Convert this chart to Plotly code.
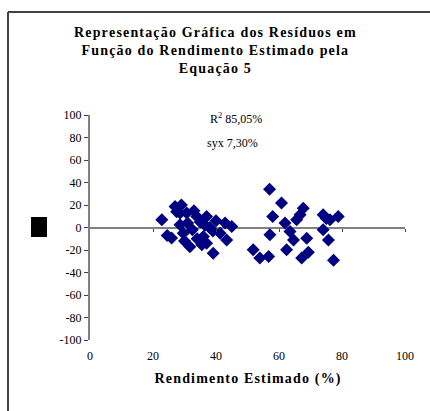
import plotly.graph_objects as go

# Estimated yield (%) and residuals (%) for the fitted model (Equation 5)
rendimento = [
    22.8, 24.5, 25.9, 27.0, 27.5, 28.6, 28.6, 29.6, 30.7, 31.0,
    31.7, 32.5, 33.9, 34.0, 35.5, 35.0, 36.0, 37.0, 37.0, 38.0,
    39.1, 40.0, 41.3, 42.9, 43.4, 45.0, 33.0, 30.0, 36.5, 39.0,
    29.0,
    51.8, 53.9, 56.7, 57.0, 58.0, 57.1, 60.8, 61.9, 62.4, 63.5,
    64.6, 65.6, 66.7, 67.7, 68.8, 69.3, 67.2, 74.0, 76.2, 78.8,
    74.0, 75.7, 77.3, 75.0,
]
residuos = [
    7.0, -7.0, -9.4, 18.7, 14.0, 13.0, 2.4, -5.0, 12.8, 4.0,
    -17.0, -2.0, 9.8, -10.0, -15.4, 5.0, -8.0, 9.8, -13.9, 0.0,
    -22.8, 6.0, -5.0, 3.9, -11.0, 1.0, 15.0, -12.0, 2.0, -3.0,
    20.0,
    -19.8, -27.0, -25.8, 34.0, 9.8, -6.5, 21.7, 3.9, -19.8, -3.5,
    -11.0, 6.8, 11.3, 17.2, -9.5, -22.0, -27.0, 11.3, 6.8, 9.8,
    -2.0, -11.0, -29.0, 8.0,
]

x_ticks = [0, 20, 40, 60, 80, 100]
y_ticks = [100, 80, 60, 40, 20, 0, -20, -40, -60, -80, -100]
y_ticktext = ["100", "80", "60", "40", "20", "0",
              "-20", "-40", "-60", "-80", "-100"]

titulo = ["Representação Gráfica dos Resíduos em",
          "Função do Rendimento Estimado pela",
          "Equação 5"]
titulo_x = "Rendimento Estimado (%)"
r2_txt = "R<sup>2</sup> 85,05%"
syx_txt = "syx 7,30%"

SERIF = "Liberation Serif, Times New Roman, serif"
HAIR = "\u200a"


def espacado(s):
    """Spread the letters of a string apart with hair spaces."""
    return HAIR.join(s)


fig = go.Figure()
fig.add_trace(go.Scatter(
    x=rendimento, y=residuos, mode="markers",
    marker=dict(symbol="diamond", size=10, color="#000080",
                line=dict(width=0)),
    showlegend=False, cliponaxis=False,
))

fig.update_layout(
    width=430, height=411,
    margin=dict(l=90, r=25, t=115, b=71),
    paper_bgcolor="white", plot_bgcolor="white",
    font=dict(family=SERIF, size=12, color="black"),
    xaxis=dict(
        range=[0, 100], tickvals=x_ticks, ticktext=[str(v) for v in x_ticks],
        showgrid=False, zeroline=False, showline=False,
        ticks="outside", ticklen=5, tickcolor="rgba(0,0,0,0)",
        tickfont=dict(family=SERIF, size=12),
        title=dict(text="<b>" + espacado(titulo_x) + "</b>",
                   font=dict(family=SERIF, size=14), standoff=10),
    ),
    xaxis2=dict(
        overlaying="x", matches="x", anchor="free", position=0.5,
        side="bottom", tickvals=x_ticks[1:], showticklabels=False,
        showgrid=False, zeroline=False, showline=False,
        ticks="outside", ticklen=3, tickwidth=1, tickcolor="#404040",
    ),
    yaxis=dict(
        range=[-100, 100], tickvals=y_ticks, ticktext=y_ticktext,
        showgrid=False, showline=True, linecolor="#808080", linewidth=2,
        zeroline=True, zerolinecolor="#808080", zerolinewidth=2,
        ticks="outside", ticklen=4, tickcolor="#404040",
        tickfont=dict(family=SERIF, size=12),
    ),
)

# invisible companion trace so the mid-height tick axis is drawn
fig.add_trace(go.Scatter(x=[x_ticks[0]], y=[0], xaxis="x2", mode="markers",
                         marker=dict(opacity=0), showlegend=False,
                         hoverinfo="skip"))

# chart title
fig.add_annotation(
    text="<br>".join("<b>" + espacado(t) + "</b>" for t in titulo),
    xref="paper", yref="paper", x=(215 - 90) / 315, y=(340 - 23) / 225,
    xanchor="center", yanchor="top", showarrow=False, align="center",
    font=dict(family=SERIF, size=14),
)

# fit statistics
fig.add_annotation(text=r2_txt, xref="paper", yref="paper",
                   x=(236 - 90) / 315, y=(340 - 118) / 225,
                   xanchor="center", yanchor="middle", showarrow=False,
                   font=dict(family=SERIF, size=12))
fig.add_annotation(text=syx_txt, xref="paper", yref="paper",
                   x=(232 - 90) / 315, y=(340 - 143) / 225,
                   xanchor="center", yanchor="middle", showarrow=False,
                   font=dict(family=SERIF, size=12))

# frame edges and the legend key block
left, right = (8 - 90) / 315, (430 - 90) / 315
top, bottom = (340 - 12) / 225, (340 - 411) / 225
fig.add_shape(type="line", xref="paper", yref="paper",
              x0=left, x1=right, y0=top, y1=top,
              line=dict(color="#404040", width=2))
fig.add_shape(type="line", xref="paper", yref="paper",
              x0=left, x1=left, y0=top, y1=bottom,
              line=dict(color="#404040", width=2))
fig.add_shape(type="rect", xref="paper", yref="paper",
              x0=(31 - 90) / 315, x1=(47 - 90) / 315,
              y0=(340 - 237) / 225, y1=(340 - 217) / 225,
              fillcolor="black", line=dict(width=0))

fig.write_html("out.html")
